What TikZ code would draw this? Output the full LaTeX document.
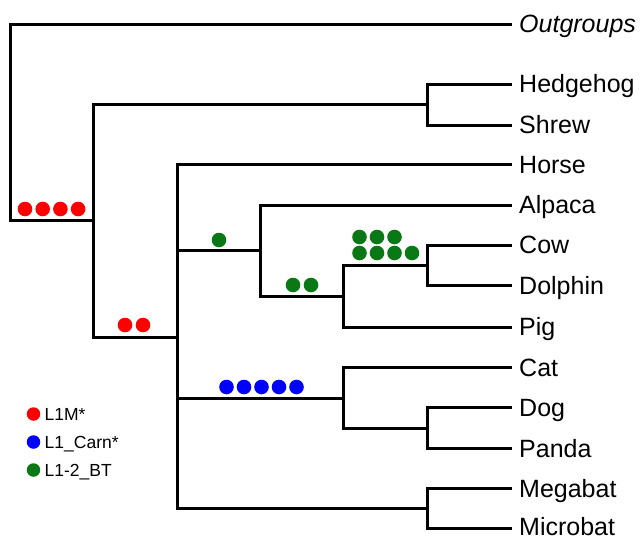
\documentclass[tikz,border=0pt]{standalone}
\usepackage{fontspec}
\setmainfont{Liberation Sans}
\definecolor{dred}{RGB}{255,0,0}
\definecolor{dblue}{RGB}{0,0,255}
\definecolor{dgreen}{RGB}{10,120,20}
\begin{document}
\begin{tikzpicture}[x=1pt,y=-1pt,
  branch/.style={line width=3pt, black},
  taxon/.style={anchor=base west, inner sep=0pt, font=\fontsize{25}{30}\selectfont},
  dot/.style={circle, inner sep=0pt, minimum size=14.6pt, fill=#1},
  ldot/.style={circle, inner sep=0pt, minimum size=13.5pt, fill=#1},
  legtext/.style={anchor=base west, inner sep=0pt, font=\fontsize{17.5}{20}\selectfont}]
\useasboundingbox (0,0) rectangle (640,538);
% tips
\coordinate (tOut) at (512,24);
\coordinate (tHed) at (512,84);
\coordinate (tShr) at (512,125);
\coordinate (tHor) at (512,164.5);
\coordinate (tAlp) at (512,205);
\coordinate (tCow) at (512,245);
\coordinate (tDol) at (512,285.5);
\coordinate (tPig) at (512,327);
\coordinate (tCat) at (512,367.5);
\coordinate (tDog) at (512,407.5);
\coordinate (tPan) at (512,448.5);
\coordinate (tMeg) at (512,488.5);
\coordinate (tMic) at (512,528.5);
% internal nodes
\coordinate (nRoot) at (10,122);
\coordinate (nIn) at (93,220);
\coordinate (nEul) at (427,104.5);
\coordinate (nSco) at (177,337);
\coordinate (nCet) at (260,250.5);
\coordinate (nWh) at (343,296.5);
\coordinate (nRum) at (427,265.25);
\coordinate (nCar) at (343,398);
\coordinate (nDP) at (427,428);
\coordinate (nBat) at (427,508.5);
% branches
\draw[branch] (nRoot) |- (tOut);
\draw[branch] (nRoot) |- (nIn);
\draw[branch] (nIn) |- (nEul);
\draw[branch] (nIn) |- (nSco);
\draw[branch] (nEul) |- (tHed);
\draw[branch] (nEul) |- (tShr);
\draw[branch] (nSco) |- (tHor);
\draw[branch] (nSco) |- (nCet);
\draw[branch] (nSco) |- (nCar);
\draw[branch] (nSco) |- (nBat);
\draw[branch] (nCet) |- (tAlp);
\draw[branch] (nCet) |- (nWh);
\draw[branch] (nWh) |- (nRum);
\draw[branch] (nWh) |- (tPig);
\draw[branch] (nRum) |- (tCow);
\draw[branch] (nRum) |- (tDol);
\draw[branch] (nCar) |- (tCat);
\draw[branch] (nCar) |- (nDP);
\draw[branch] (nDP) |- (tDog);
\draw[branch] (nDP) |- (tPan);
\draw[branch] (nBat) |- (tMeg);
\draw[branch] (nBat) |- (tMic);
% labels
\node[taxon] (lOut) at (519,32.5) {\itshape Outgroups};
\node[taxon] (lHed) at (519,92.5) {Hedgehog};
\node[taxon] (lShr) at (519,133.5) {Shrew};
\node[taxon] (lHor) at (519,173) {Horse};
\node[taxon] (lAlp) at (519,213.5) {Alpaca};
\node[taxon] (lCow) at (519,253.5) {Cow};
\node[taxon] (lDol) at (519,294) {Dolphin};
\node[taxon] (lPig) at (519,335.5) {Pig};
\node[taxon] (lCat) at (519,376) {Cat};
\node[taxon] (lDog) at (519,416) {Dog};
\node[taxon] (lPan) at (519,457) {Panda};
\node[taxon] (lMeg) at (519,497) {Megabat};
\node[taxon] (lMic) at (519,535.5) {Microbat};
% red dots
\node[dot=dred] (r1) at (25,209) {};
\node[dot=dred] (r2) at (42.7,209) {};
\node[dot=dred] (r3) at (60.4,209) {};
\node[dot=dred] (r4) at (78.1,209) {};
\node[dot=dred] (r5) at (125,325) {};
\node[dot=dred] (r6) at (143,325) {};
% green dots
\node[dot=dgreen] (g1) at (219,240) {};
\node[dot=dgreen] (g2) at (293,285) {};
\node[dot=dgreen] (g3) at (311,285) {};
\node[dot=dgreen] (g4) at (359.5,237) {};
\node[dot=dgreen] (g5) at (377,237) {};
\node[dot=dgreen] (g6) at (394.5,237) {};
\node[dot=dgreen] (g7) at (359.5,253) {};
\node[dot=dgreen] (g8) at (377,253) {};
\node[dot=dgreen] (g9) at (394.5,253) {};
\node[dot=dgreen] (g10) at (412,253) {};
% blue dots
\node[dot=dblue] (b1) at (226.5,387) {};
\node[dot=dblue] (b2) at (244,387) {};
\node[dot=dblue] (b3) at (261.5,387) {};
\node[dot=dblue] (b4) at (279,387) {};
\node[dot=dblue] (b5) at (296.5,387) {};
% legend
\node[ldot=dred] (k1) at (33.5,414) {};
\node[ldot=dblue] (k2) at (33.5,442) {};
\node[ldot=dgreen] (k3) at (33.5,470) {};
\node[legtext] (kt1) at (44.5,420) {L1M*};
\node[legtext] (kt2) at (44.5,448) {L1\_Carn*};
\node[legtext] (kt3) at (44.5,476) {L1-2\_BT};
\end{tikzpicture}
\end{document}
